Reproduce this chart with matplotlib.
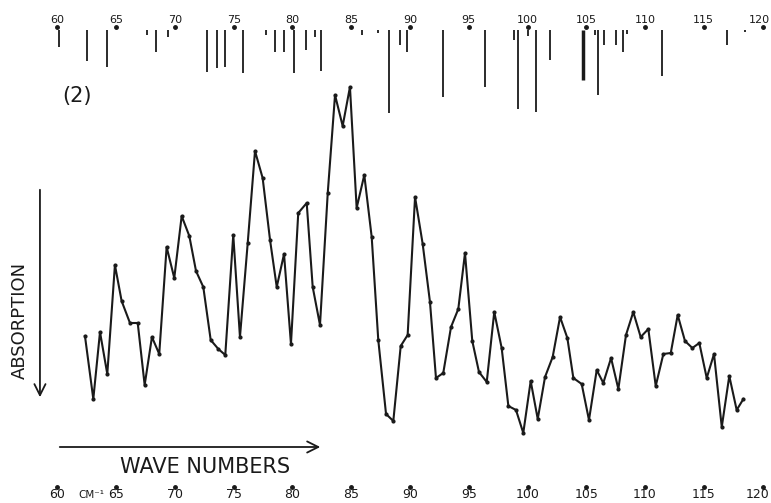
"""Far-infrared spectrum (2): observed absorption curve with calculated stick lines"""

import matplotlib.pyplot as plt

# observed curve: wave number (cm-1) and trace height (arbitrary units, absorption is down)
wave = [62.34, 63.05, 63.62, 64.24, 64.89, 65.46, 66.17, 66.83, 67.42, 68.04,
        68.66, 69.29, 69.94, 70.57, 71.22, 71.79, 72.41, 73.04, 73.69, 74.28,
        74.96, 75.53, 76.19, 76.81, 77.46, 78.09, 78.66, 79.28, 79.87, 80.49,
        81.21, 81.72, 82.34, 83.00, 83.62, 84.27, 84.89, 85.46, 86.11, 86.74,
        87.30, 87.96, 88.58, 89.21, 89.80, 90.43, 91.08, 91.70, 92.21, 92.83,
        93.49, 94.11, 94.68, 95.30, 95.87, 96.53, 97.17, 97.80, 98.37, 99.02,
        99.64, 100.27, 100.87, 101.49, 102.14, 102.77, 103.39, 103.90, 104.61, 105.23,
        105.89, 106.45, 107.11, 107.73, 108.38, 109.00, 109.63, 110.28, 110.91, 111.56,
        112.19, 112.78, 113.40, 114.03, 114.62, 115.25, 115.87, 116.53, 117.17, 117.80,
        118.37]
signal = [109, 46, 113, 71, 180, 144, 122, 122, 60, 108,
          91, 198, 167, 229, 209, 174, 158, 105, 96, 90,
          210, 108, 202, 294, 267, 205, 158, 191, 101, 232,
          242, 158, 120, 252, 350, 319, 358, 237, 270, 208,
          105, 31, 24, 99, 110, 248, 201, 143, 67, 72,
          118, 136, 192, 104, 73, 63, 133, 97, 39, 35,
          12, 64, 26, 68, 88, 128, 107, 67, 61, 25,
          75, 62, 87, 56, 110, 133, 108, 116, 59, 91,
          92, 130, 104, 97, 102, 67, 91, 18, 69, 35,
          46]

# calculated lines hanging from the top scale
line_pos = [60.15, 62.54, 64.19, 67.59, 68.36, 69.38, 72.72, 73.57, 74.26, 75.79,
            77.74, 78.51, 79.28, 80.13, 81.15, 81.91, 82.43, 85.91, 87.28, 88.21,
            89.15, 89.74, 92.81, 96.38, 98.85, 99.19, 100.04, 100.72, 101.91, 104.72,
            105.74, 106.00, 106.51, 107.53, 108.13, 108.47, 111.45, 116.98, 118.51]
line_len = [17, 31, 37, 5, 22, 7, 42, 38, 37, 43,
            5, 22, 22, 43, 20, 7, 41, 5, 3, 83,
            15, 22, 67, 57, 10, 79, 6, 82, 30, 50,
            5, 65, 15, 15, 22, 4, 46, 15, 2]
line_width = [1.3] * len(line_pos)
line_width[line_pos.index(104.72)] = 2.5

ticks = list(range(60, 121, 5))
top_labels = [str(t) for t in ticks]
bottom_labels = [str(t) for t in ticks]

fig = plt.figure(figsize=(7.71, 5.03), dpi=100)
ax = fig.add_axes([0, 0, 1, 1])
ax.set_xlim(55.11, 120.72)
ax.set_ylim(-58, 445)
ax.axis('off')

ink = '#1a1a1a'

# top scale with stick spectrum
top = 415
ax.vlines(line_pos, [top - l for l in line_len], top, color=ink, linewidth=line_width)
ax.plot(ticks, [418] * len(ticks), 'o', color=ink, markersize=2.5)
for t, lab in zip(ticks, top_labels):
    x = t if t < 120 else t - 0.3
    ax.text(x, 425, lab, ha='center', va='center', fontsize=8, color=ink)

# observed curve
ax.plot(wave, signal, color=ink, linewidth=1.5, marker='o', markersize=2)

# bottom scale
ax.plot(ticks, [-42] * len(ticks), 'o', color=ink, markersize=2.5)
for t, lab in zip(ticks, bottom_labels):
    x = t if t < 120 else t - 0.45
    ax.text(x, -50, lab, ha='center', va='center', fontsize=9, color=ink)
ax.text(62.9, -50, 'CM⁻¹', ha='center', va='center', fontsize=7.5, color=ink)

# labels and arrows
ax.text(61.66, 349, '(2)', ha='center', va='center', fontsize=15, color=ink)
ax.annotate('', xy=(82.6, -2), xytext=(59.96, -2),
            arrowprops=dict(arrowstyle='->', color=ink, lw=1.3, mutation_scale=20))
ax.text(72.55, -22, 'WAVE NUMBERS', ha='center', va='center', fontsize=15, color=ink)
ax.annotate('', xy=(58.51, 45), xytext=(58.51, 258),
            arrowprops=dict(arrowstyle='->', color=ink, lw=1.3, mutation_scale=20))
ax.text(56.81, 125, 'ABSORPTION', ha='center', va='center', rotation=90,
        fontsize=13, color=ink)

plt.savefig('out.png', dpi=100)
